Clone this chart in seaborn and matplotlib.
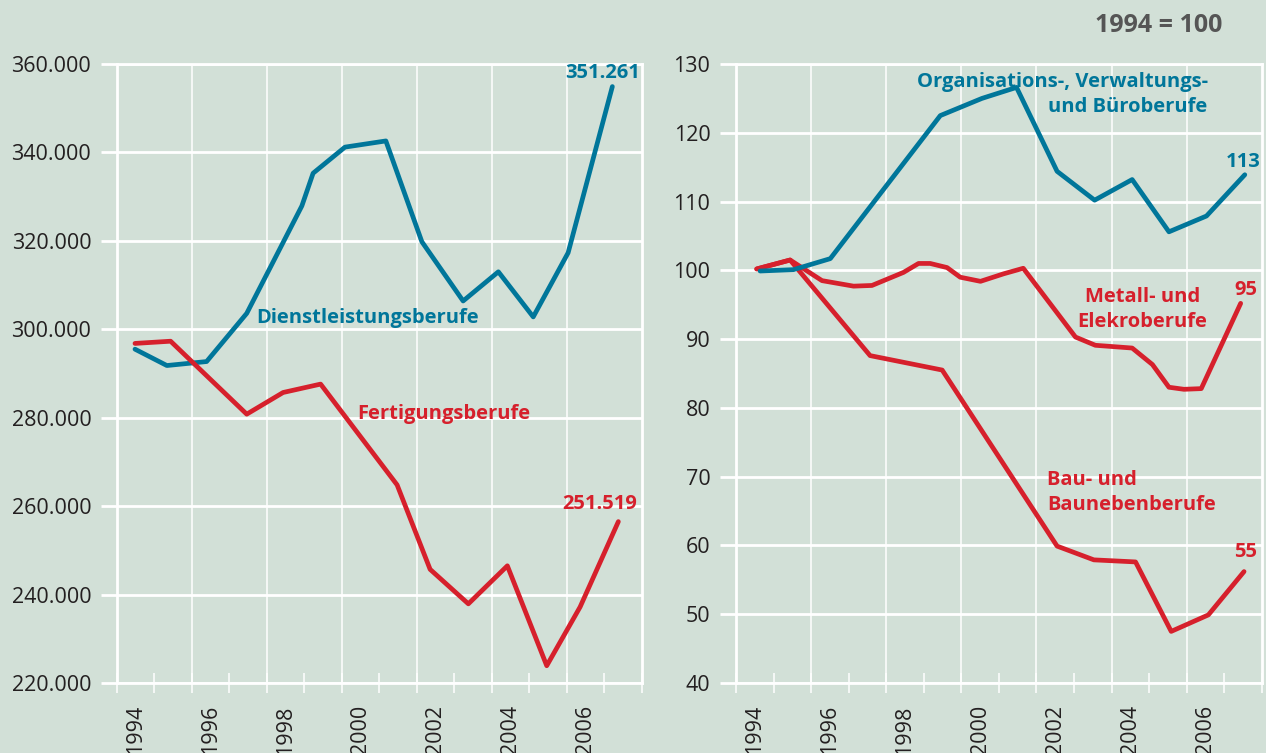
import matplotlib
matplotlib.use("Agg")
import matplotlib.pyplot as plt
from matplotlib.ticker import FuncFormatter
import numpy as np
import seaborn as sns

# colours
BG = "#d2e0d7"
BLUE = "#00769a"
RED = "#d6202c"
TXT = "#231f20"

# left panel: absolute numbers
dienst_x = [1993.98, 1994.83, 1995.89, 1996.96, 1998.43, 1998.73, 1999.58,
            2000.67, 2001.63, 2002.73, 2003.67, 2004.60, 2005.53, 2006.71]
dienst_y = [295500, 291800, 292700, 303600, 327900, 335300, 341200,
            342600, 319800, 306400, 313000, 302800, 317300, 354900]
fert_x = [1993.98, 1994.93, 1996.96, 1997.93, 1998.93, 2000.97,
          2001.85, 2002.87, 2003.91, 2004.96, 2005.85, 2006.87]
fert_y = [296800, 297300, 280800, 285700, 287600, 264800,
          245700, 237900, 246500, 223900, 237200, 256500]

# right panel: index 1994 = 100
org_x = [1994.14, 1995.03, 1996.01, 1998.94, 2000.05, 2000.97,
         2002.05, 2003.05, 2004.05, 2005.03, 2006.03, 2007.05]
org_y = [99.9, 100.1, 101.7, 122.5, 125.0, 126.6,
         114.4, 110.2, 113.2, 105.6, 107.9, 113.9]
metall_x = [1994.05, 1994.94, 1995.79, 1996.63, 1997.12, 1997.96, 1998.36,
            1998.67, 1999.12, 1999.47, 2000.01, 2000.63, 2001.15, 2002.54,
            2003.07, 2004.05, 2004.59, 2005.03, 2005.43, 2005.89, 2006.94]
metall_y = [100.2, 101.5, 98.5, 97.7, 97.8, 99.7, 101.0,
            101.0, 100.4, 99.0, 98.4, 99.5, 100.3, 90.3,
            89.1, 88.7, 86.3, 83.0, 82.7, 82.8, 95.2]
bau_x = [1994.05, 1994.94, 1997.07, 1998.99, 2002.05,
         2003.03, 2004.14, 2005.09, 2006.08, 2007.03]
bau_y = [100.2, 101.5, 87.6, 85.5, 59.9,
         57.9, 57.6, 47.5, 49.9, 56.2]

year_labels = [1994, 1996, 1998, 2000, 2002, 2004, 2006]
left_ticks = list(range(220000, 360001, 20000))
right_ticks = list(range(40, 131, 10))

sns.set_style("dark", {"axes.facecolor": BG, "figure.facecolor": BG,
                       "axes.edgecolor": "white"})
plt.rcParams["font.family"] = ["Open Sans", "DejaVu Sans"]

fig = plt.figure(figsize=(12.66, 7.53), dpi=100)
ax1 = fig.add_axes([0.0924, 0.093, 0.4147, 0.822])
ax2 = fig.add_axes([0.5814, 0.093, 0.4152, 0.822])


def style_axis(ax, yticks, ylim):
    ax.set_xlim(1993.5, 2007.5)
    ax.set_ylim(*ylim)
    ax.set_yticks(yticks)
    ax.set_xticks(year_labels)
    ax.set_xticklabels([str(y) for y in year_labels], rotation=90)
    ax.set_xticks(np.arange(1993.5, 2008, 1), minor=True)
    ax.tick_params(axis="x", which="major", length=0, pad=16,
                   labelsize=15.5, labelcolor=TXT)
    ax.tick_params(axis="x", which="minor", direction="inout", length=14,
                   width=1.1, color="white", bottom=True)
    ax.tick_params(axis="y", which="major", length=11.5, width=2,
                   color="white", pad=7, labelsize=15.5, labelcolor=TXT, left=True)
    ax.grid(False)
    ax.grid(axis="y", color="white", lw=2)
    for b in np.arange(1995.5, 2007, 2):
        ax.axvline(b, color="white", lw=1.1, zorder=0.5)
    for s in ax.spines.values():
        s.set_color("white")
        s.set_linewidth(2)
    ax.set_xlabel("")
    ax.set_ylabel("")


lw = 3.4
sns.lineplot(x=dienst_x, y=dienst_y, ax=ax1, color=BLUE, lw=lw,
             sort=False, estimator=None)
sns.lineplot(x=fert_x, y=fert_y, ax=ax1, color=RED, lw=lw,
             sort=False, estimator=None)
style_axis(ax1, left_ticks, (220000, 360000))
ax1.yaxis.set_major_formatter(
    FuncFormatter(lambda v, p: f"{v:,.0f}".replace(",", ".")))

sns.lineplot(x=metall_x, y=metall_y, ax=ax2, color=RED, lw=lw,
             sort=False, estimator=None)
sns.lineplot(x=bau_x, y=bau_y, ax=ax2, color=RED, lw=lw,
             sort=False, estimator=None)
sns.lineplot(x=org_x, y=org_y, ax=ax2, color=BLUE, lw=lw,
             sort=False, estimator=None)
style_axis(ax2, right_ticks, (40, 130))

lbl = dict(fontsize=14.5, fontweight="bold")
ax1.text(2006.46, 358000, "351.261", color=BLUE, ha="center", va="center", **lbl)
ax1.text(1997.21, 302500, "Dienstleistungsberufe", color=BLUE,
         ha="left", va="center", **lbl)
ax1.text(1999.9, 280800, "Fertigungsberufe", color=RED,
         ha="left", va="center", **lbl)
ax1.text(2006.38, 260500, "251.519", color=RED, ha="center", va="center", **lbl)

ax2.text(2006.06, 125.6, "Organisations-, Verwaltungs-\nund Büroberufe",
         color=BLUE, ha="right", va="center", multialignment="right",
         linespacing=1.3, **lbl)
ax2.text(2007.0, 115.8, "113", color=BLUE, ha="center", va="center", **lbl)
ax2.text(2004.33, 94.3, "Metall- und\nElekroberufe", color=RED,
         ha="center", va="center", multialignment="center",
         linespacing=1.3, **lbl)
ax2.text(2007.07, 97.2, "95", color=RED, ha="center", va="center", **lbl)
ax2.text(2001.79, 67.7, "Bau- und\nBaunebenberufe", color=RED,
         ha="left", va="center", multialignment="left",
         linespacing=1.3, **lbl)
ax2.text(2007.07, 59.0, "55", color=RED, ha="center", va="center", **lbl)

fig.text(1222 / 1266, 1 - 25 / 753, "1994 = 100", color="#555555",
         ha="right", va="center", fontsize=18, fontweight="bold")

fig.savefig("out.png", dpi=100, facecolor=BG)
plt.close(fig)
